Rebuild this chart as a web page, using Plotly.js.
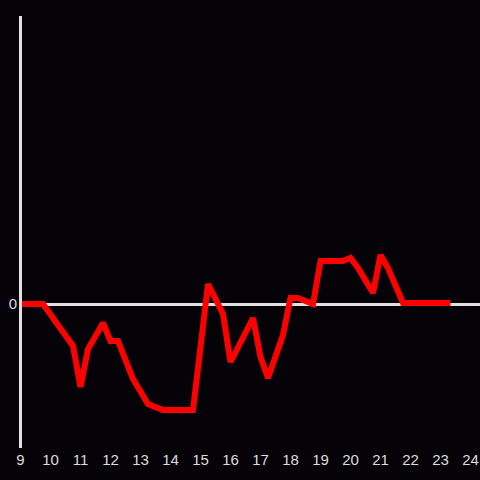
<!DOCTYPE html>
<html>
<head>
<meta charset="utf-8">
<script src="https://cdn.plot.ly/plotly-3.0.1.min.js"></script>
<style>html,body{margin:0;padding:0;background:#050308;}</style>
</head>
<body>
<div id="chart" style="width:480px;height:480px;"></div>
<script>
const hours = [9, 9.75, 10.75, 11, 11.25, 11.75, 12, 12.25, 12.75, 13.25, 13.75, 14.75, 15.25, 15.75, 16, 16.75, 17, 17.25, 17.75, 18, 18.25, 18.75, 19, 19.75, 20, 20.25, 20.75, 21, 21.25, 21.75, 23.33];
const values = [0, 0, -0.42, -0.83, -0.45, -0.19, -0.37, -0.37, -0.75, -1.0, -1.06, -1.06, 0.2, -0.1, -0.58, -0.14, -0.53, -0.74, -0.31, 0.06, 0.06, 0.0, 0.43, 0.43, 0.46, 0.36, 0.11, 0.49, 0.36, 0.01, 0.01];
const xTicks = [9,10,11,12,13,14,15,16,17,18,19,20,21,22,23,24];
const yTicks = [0];

Plotly.newPlot('chart', [{
  x: hours, y: values, type: 'scatter', mode: 'lines',
  line: {color: '#ff0000', width: 6}, hoverinfo: 'skip', cliponaxis: false
}], {
  width: 480, height: 480,
  paper_bgcolor: '#050308', plot_bgcolor: '#050308',
  margin: {l: 20, r: 0, t: 16, b: 32},
  showlegend: false,
  font: {family: 'Liberation Sans, Arial, sans-serif', size: 15, color: '#dddddd'},
  xaxis: {range: [8.9833, 24.3167], tickvals: xTicks, ticktext: xTicks.map(String),
    showgrid: false, zeroline: false, showline: false, ticks: '', ticklen: 0,
    ticklabelstandoff: 1,
    tickfont: {size: 15, color: '#dddddd'}},
  yaxis: {range: [-1.44, 2.88], tickvals: yTicks, ticktext: ['0'],
    showgrid: false, zeroline: true, zerolinecolor: '#e0e0e0', zerolinewidth: 3,
    showline: false, ticks: '', ticklabelstandoff: 2,
    tickfont: {size: 15, color: '#dddddd'}},
  shapes: [{type: 'line', xref: 'paper', yref: 'paper', x0: 0.5 / 460, x1: 0.5 / 460, y0: 0, y1: 1,
    line: {color: '#e0e0e0', width: 3}, layer: 'above'}]
}, {displayModeBar: false, staticPlot: true});
</script>
</body>
</html>
